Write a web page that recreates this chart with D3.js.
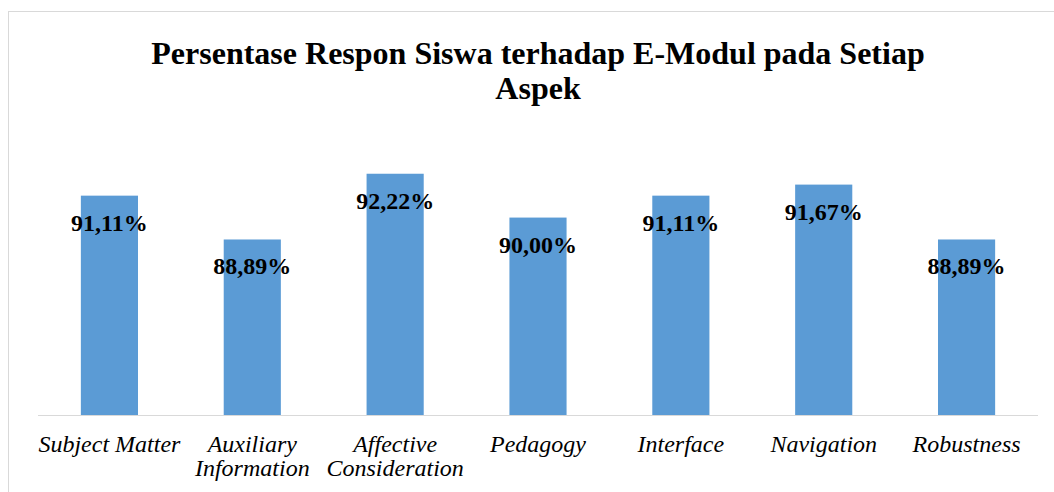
<!DOCTYPE html>
<html>
<head>
<meta charset="utf-8">
<script src="https://cdn.jsdelivr.net/npm/d3@7"></script>
<style>
  html, body { margin: 0; padding: 0; background: #fff; }
  svg { display: block; }
</style>
</head>
<body>
<div id="chart"></div>
<script>
var categories = ['Subject Matter', 'Auxiliary Information', 'Affective Consideration',
                  'Pedagogy', 'Interface', 'Navigation', 'Robustness'];
var values = [91.11, 88.89, 92.22, 90.00, 91.11, 91.67, 88.89];
var titleLines = ['Persentase Respon Siswa terhadap E-Modul pada Setiap', 'Aspek'];
var yDomain = [80, 94];

var width = 1054,
    height = 492,
    margin = {left: 38, right: 16, top: 138.6, bottom: 77},
    serif = '"Liberation Serif", "Times New Roman", serif';

var svg = d3.select('#chart')
  .append('svg')
  .attr('width', width)
  .attr('height', height);

// chart border
svg.append('rect')
  .attr('x', 8.5)
  .attr('y', 11.5)
  .attr('width', width + 20)
  .attr('height', height + 20)
  .attr('fill', '#fff')
  .attr('stroke', '#d9d9d9')
  .attr('stroke-width', 1);

var x = d3.scaleBand()
  .domain(categories)
  .range([margin.left, width - margin.right])
  .paddingInner(0.6)
  .paddingOuter(0.3);

var y = d3.scaleLinear()
  .domain(yDomain)
  .range([height - margin.bottom, margin.top]);

// title
svg.append('text')
  .attr('x', 538)
  .attr('y', 64)
  .attr('text-anchor', 'middle')
  .style('font-family', serif)
  .style('font-weight', 'bold')
  .style('font-size', '32px')
  .selectAll('tspan')
  .data(titleLines)
  .enter()
  .append('tspan')
  .attr('x', 538)
  .attr('dy', function(d, i) { return i ? 35 : 0; })
  .text(function(d) { return d; });

// bars
svg.append('g')
  .selectAll('rect.bar')
  .data(values)
  .enter()
  .append('rect')
  .attr('class', 'bar')
  .attr('x', function(d, i) { return x(categories[i]); })
  .attr('y', function(d) { return y(d); })
  .attr('width', x.bandwidth())
  .attr('height', function(d) { return y(yDomain[0]) - y(d); })
  .attr('fill', '#5b9bd5');

// baseline
svg.append('line')
  .attr('x1', margin.left)
  .attr('x2', width - margin.right)
  .attr('y1', y(yDomain[0]) + 0.5)
  .attr('y2', y(yDomain[0]) + 0.5)
  .attr('stroke', '#d9d9d9')
  .attr('stroke-width', 1);

// value labels
svg.append('g')
  .selectAll('text.label')
  .data(values)
  .enter()
  .append('text')
  .attr('class', 'label')
  .attr('x', function(d, i) { return x(categories[i]) + x.bandwidth() / 2; })
  .attr('y', function(d) { return y(d) + 35; })
  .attr('text-anchor', 'middle')
  .style('font-family', serif)
  .style('font-weight', 'bold')
  .style('font-size', '24px')
  .text(function(d) { return d.toFixed(2).replace('.', ',') + '%'; });

// category axis labels, wrapped like Excel does
var axisG = svg.append('g')
  .attr('transform', 'translate(0,' + y(yDomain[0]) + ')')
  .call(d3.axisBottom(x).tickSize(0).tickPadding(0));

axisG.select('.domain').remove();

axisG.selectAll('.tick text')
  .style('font-family', serif)
  .style('font-style', 'italic')
  .style('font-size', '24px')
  .attr('fill', '#000')
  .attr('dy', null)
  .attr('y', 37)
  .each(function(d) {
    var text = d3.select(this),
        words = d.split(' '),
        lines = [],
        current = [];
    text.text(null);
    var probe = text.append('tspan');
    words.forEach(function(w) {
      var trial = current.concat([w]).join(' ');
      probe.text(trial);
      if (current.length && probe.node().getComputedTextLength() > x.step() + 6) {
        lines.push(current.join(' '));
        current = [w];
      } else {
        current.push(w);
      }
    });
    lines.push(current.join(' '));
    probe.remove();
    lines.forEach(function(l, i) {
      text.append('tspan')
        .attr('x', 0)
        .attr('y', 37 + i * 24)
        .text(l);
    });
  });
</script>
</body>
</html>
